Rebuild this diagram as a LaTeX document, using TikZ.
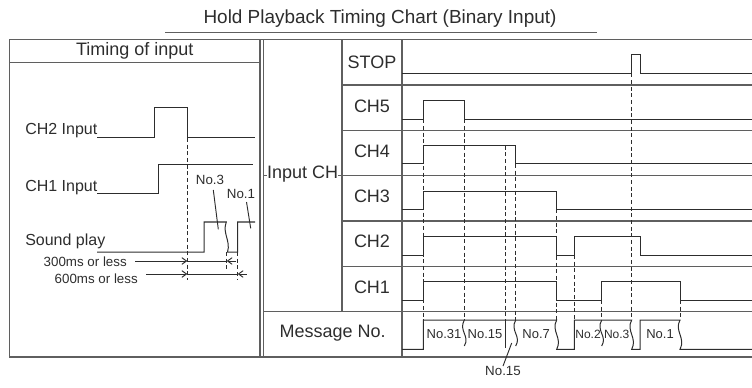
\documentclass[tikz,border=0pt]{standalone}
\usepackage{fontspec}
\setmainfont{Liberation Sans}
\usetikzlibrary{arrows.meta}
\definecolor{gridc}{RGB}{95,95,95}
\definecolor{sigc}{RGB}{45,45,45}
\begin{document}
\begin{tikzpicture}[x=0.75pt,y=-0.75pt,
 frame/.style={draw=gridc,line width=0.9pt},
 signal/.style={draw=sigc,line width=0.75pt},
 guide/.style={draw=sigc,line width=0.7pt,dash pattern=on 3pt off 2pt},
 big/.style={font=\fontsize{13.5}{15}\selectfont,inner sep=0pt,text=sigc},
 mid/.style={font=\fontsize{12}{14}\selectfont,inner sep=0pt,text=sigc},
 small/.style={font=\fontsize{10}{12}\selectfont,inner sep=0pt,text=sigc},
 msg/.style={font=\fontsize{9.75}{11}\selectfont,inner sep=0pt,text=sigc},
 msgs/.style={font=\fontsize{9}{11}\selectfont,inner sep=0pt,text=sigc},
 dim/.style={draw=sigc,line width=0.7pt},
 tip/.style={-{Straight Barb[length=3.5pt,width=5pt]}}
]
\useasboundingbox (0,0) rectangle (752,388);

% title
\node[font=\fontsize{14.2}{16}\selectfont,inner sep=0pt,text=sigc] (title) at (380,19) {Hold Playback Timing Chart (Binary Input)};
\draw[frame] (165,32.7) -- (597,32.7);

% frames
\draw[frame] (752,39.5) -- (9.5,39.5) -- (9.5,357) -- (752,357);
\draw[frame] (260,39.5) -- (260,357);
\draw[frame] (263.5,39.5) -- (263.5,357);
\draw[frame] (9.5,62.3) -- (260,62.3);
\draw[frame] (342,39.5) -- (342,311.7);
\draw[frame] (402,39.5) -- (402,357);
\foreach \yy in {85,130.3,221,266.3} \draw[frame] (342,\yy) -- (752,\yy);
\draw[frame] (263.5,175.7) -- (752,175.7);
\draw[frame] (263.5,311.7) -- (752,311.7);

% left panel
\node[big] (timing) at (134.7,51) {Timing of input};
\node[mid,anchor=base west] (ch2in) at (25,135) {CH2 Input};
\node[mid,anchor=base west] (ch1in) at (25,191.7) {CH1 Input};
\node[mid,anchor=base west] (snd) at (25,245) {Sound play};
\node[small,anchor=base east] (d300) at (127,266) {300ms or less};
\node[small,anchor=base east] (d600) at (138,283) {600ms or less};
\node[small,anchor=base] (l3) at (210,185) {No.3};
\node[small,anchor=base] (l1) at (241,198.3) {No.1};

\draw[signal] (97,138) -- (154,138) -- (154,108) -- (187.3,108) -- (187.3,138) -- (255,138);
\draw[signal] (97,194) -- (158,194) -- (158,165) -- (253,165);
\draw[signal] (97,252) -- (204,252) -- (204,222) -- (226.3,222)
  .. controls (222,233) and (231,241) .. (227.5,252) -- (237.7,252) -- (237.7,222) -- (255,222);
\draw[guide] (187.3,138) -- (187.3,280);
\draw[guide] (226.7,252) -- (226.7,271.7);
\draw[guide] (237.7,252) -- (237.7,280);

\coordinate (l3a) at (213.3,190);
\coordinate (l3b) at (218.3,229.3);
\coordinate (l1a) at (246.5,202);
\coordinate (l1b) at (250.7,228.3);
\draw[dim] (l3a) -- (l3b);
\draw[dim] (l1a) -- (l1b);

\coordinate (a1) at (135,261);
\coordinate (a2) at (187.3,261);
\coordinate (a3) at (226.7,261);
\coordinate (a4) at (236,261);
\draw[dim,tip] (a1) -- (a2);
\draw[dim] (a2) -- (a3);
\draw[dim,tip] (a4) -- (a3);
\coordinate (b1) at (146,274);
\coordinate (b2) at (187.3,274);
\coordinate (b3) at (237.7,274);
\coordinate (b4) at (246.7,274);
\draw[dim,tip] (b1) -- (b2);
\draw[dim] (b2) -- (b3);
\draw[dim,tip] (b4) -- (b3);

% right table labels
\node[big,fill=white] (inch) at (302.7,174) {Input CH};
\node[big] (stop) at (372,62.3) {STOP};
\node[big] (ch5) at (372,106) {CH5};
\node[big] (ch4) at (372,151.5) {CH4};
\node[big] (ch3) at (372,196.8) {CH3};
\node[big] (ch2) at (372,241.8) {CH2};
\node[big] (ch1) at (372,287.3) {CH1};
\node[big] (msgno) at (332.7,333.5) {Message No.};

% signals
\draw[signal] (402,73.3) -- (631.7,73.3) -- (631.7,54.3) -- (640,54.3) -- (640,73.3) -- (752,73.3);
\draw[signal] (402,119.3) -- (423.3,119.3) -- (423.3,100.7) -- (464.3,100.7) -- (464.3,119.3) -- (752,119.3);
\draw[signal] (402,164) -- (423.3,164) -- (423.3,145.7) -- (515.7,145.7) -- (515.7,164) -- (752,164);
\draw[signal] (402,209.3) -- (423.3,209.3) -- (423.3,191.7) -- (556.7,191.7) -- (556.7,209.3) -- (752,209.3);
\draw[signal] (402,255) -- (423.3,255) -- (423.3,236.3) -- (556.7,236.3) -- (556.7,255) -- (574.3,255) -- (574.3,236.3) -- (640,236.3) -- (640,255) -- (752,255);
\draw[signal] (402,300) -- (423.3,300) -- (423.3,281.3) -- (556.7,281.3) -- (556.7,300) -- (601.7,300) -- (601.7,281.3) -- (680,281.3) -- (680,300) -- (752,300);

% message row
\draw[signal] (402,349.3) -- (423.3,349.3) -- (423.3,320) -- (556.7,320)
  .. controls (550.7,331) and (562.7,338) .. (556.7,349.3) -- (574.3,349.3) -- (574.3,320) -- (631.7,320)
  .. controls (625.7,331) and (637.7,338) .. (631.7,349.3) -- (640,349.3) -- (640,320) -- (680,320)
  .. controls (674,331) and (686,338) .. (680,349.3) -- (752,349.3);
\draw[signal] (464.3,320) .. controls (458.3,331) and (470.3,336) .. (464.3,346);
\draw[signal] (515.7,320) .. controls (509.7,331) and (521.7,336) .. (515.7,346);
\draw[signal] (601.7,320) .. controls (595.7,331) and (607.7,336) .. (601.7,346);
\draw[signal] (505,320) -- (505,348);

\node[msg] (m31) at (444,334) {No.31};
\node[msg] (m15) at (485,334) {No.15};
\node[msg] (m7) at (536.2,334) {No.7};
\node[msgs] (m2) at (588,334) {No.2};
\node[msgs] (m3) at (616.7,334) {No.3};
\node[msg] (m1) at (660,334) {No.1};
\node[small] (m15b) at (503,371) {No.15};
\coordinate (m15t) at (511.7,343);
\draw[dim] (m15t) -- (m15b.north);

% guides
\draw[guide] (423.3,119.3) -- (423.3,320);
\draw[guide] (464.3,119.3) -- (464.3,320);
\draw[guide] (505,145.7) -- (505,320);
\draw[guide] (515.7,164) -- (515.7,320);
\draw[guide] (556.7,209.3) -- (556.7,320);
\draw[guide] (574.3,255) -- (574.3,320);
\draw[guide] (601.7,300) -- (601.7,320);
\draw[guide] (631.7,73.3) -- (631.7,320);
\draw[guide] (680,300) -- (680,320);
\end{tikzpicture}
\end{document}
